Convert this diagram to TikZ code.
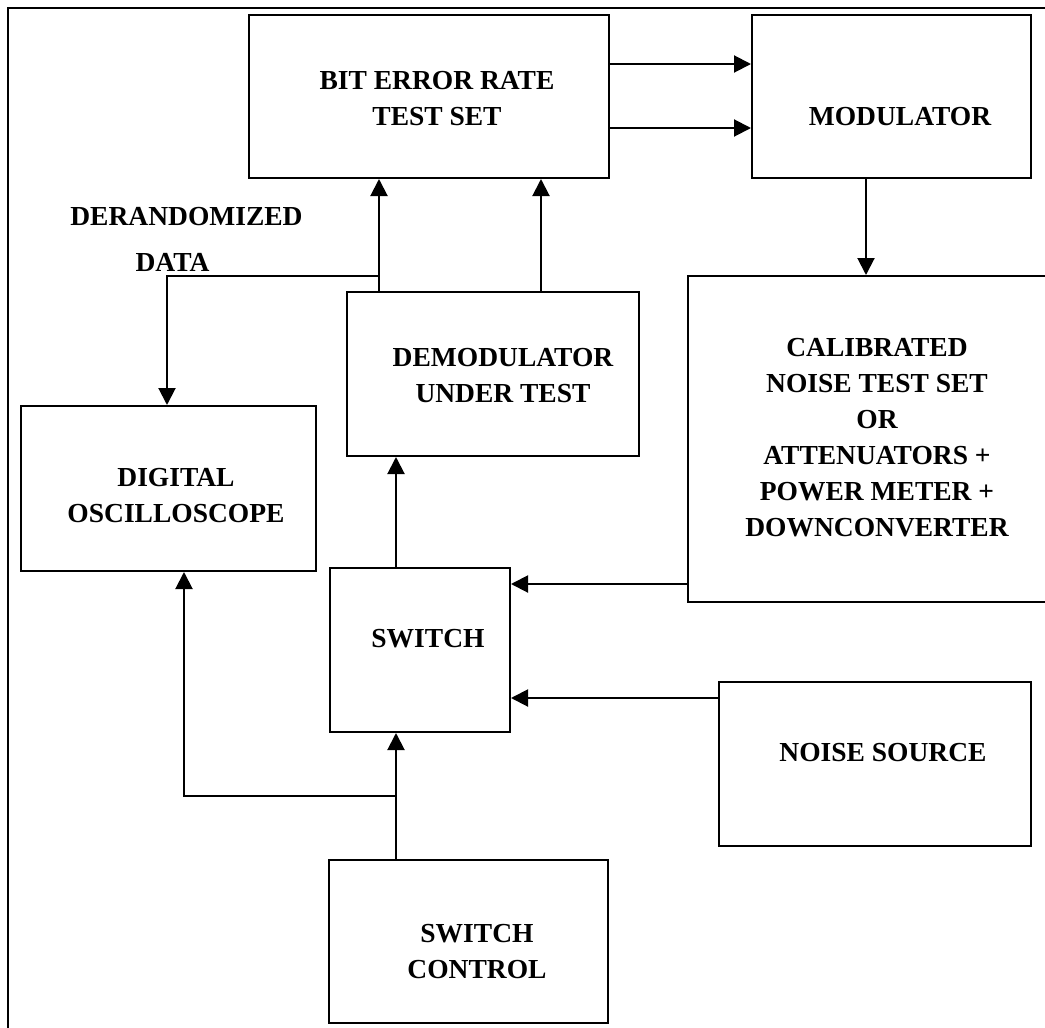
\documentclass[tikz,border=0pt]{standalone}
\usepackage{fontspec}
\setmainfont{Liberation Serif}
\usetikzlibrary{arrows.meta}
\tikzset{
  box/.style={draw, line width=2pt, inner sep=0pt, rectangle},
  lbl/.style={font=\fontsize{27.5}{36}\selectfont\bfseries, align=center, inner sep=0pt},
  arr/.style={line width=2pt, -{Triangle[length=17pt,width=17pt]}},
  ln/.style={line width=2pt},
}
\begin{document}
\begin{tikzpicture}[x=1pt,y=-1pt]
\clip (0,0) rectangle (1045,1028);
\draw[line width=1.4pt] (8,8) rectangle (1080,1080);
% boxes
\node[box, minimum width=360pt, minimum height=163pt] (bert) at (429,96.5) {};
\node[box, minimum width=279pt, minimum height=163pt] (mod) at (891.5,96.5) {};
\node[box, minimum width=372pt, minimum height=326pt] (cal) at (874,439) {};
\node[box, minimum width=292pt, minimum height=164pt] (demod) at (493,374) {};
\node[box, minimum width=295pt, minimum height=165pt] (osc) at (168.5,488.5) {};
\node[box, minimum width=180pt, minimum height=164pt] (sw) at (420,650) {};
\node[box, minimum width=312pt, minimum height=164pt] (noise) at (875,764) {};
\node[box, minimum width=279pt, minimum height=163pt] (swc) at (468.5,941.5) {};
% labels
\node[lbl] (tbert) at (437,99) {BIT ERROR RATE\\TEST SET};
\node[lbl] (tmod) at (900,117) {MODULATOR};
\node[lbl] (tcal) at (877,437.5) {CALIBRATED\\NOISE TEST SET\\OR\\ATTENUATORS +\\POWER METER +\\DOWNCONVERTER};
\node[lbl] (tdemod) at (503,375.5) {DEMODULATOR\\UNDER TEST};
\node[lbl] (tosc) at (176,495.5) {DIGITAL\\OSCILLOSCOPE};
\node[lbl] (tsw) at (428,639) {SWITCH};
\node[lbl] (tnoise) at (883,753) {NOISE SOURCE};
\node[lbl] (tswc) at (477,951.5) {SWITCH\\CONTROL};
\node[lbl] (tder) at (186.5,217) {DERANDOMIZED};
\node[lbl] (tdata) at (172.5,262) {DATA};
% helper coordinates
\coordinate (r1) at (0,64);
\coordinate (r2) at (0,128);
\coordinate (cmod) at (866,0);
\coordinate (cda) at (379,0);
\coordinate (cdb) at (541,0);
\coordinate (j1) at (379,276);
\coordinate (k1) at (167,276);
\coordinate (r3) at (0,584);
\coordinate (r4) at (0,698);
\coordinate (cs) at (396,0);
\coordinate (j2) at (396,796);
\coordinate (k2) at (184,796);
% connectors
\draw[arr] (bert.east |- r1) -- (mod.west |- r1);
\draw[arr] (bert.east |- r2) -- (mod.west |- r2);
\draw[arr] (mod.south -| cmod) -- (cal.north -| cmod);
\draw[arr] (demod.north -| cda) -- (bert.south -| cda);
\draw[arr] (demod.north -| cdb) -- (bert.south -| cdb);
\draw[arr] (j1) -- (k1) -- (osc.north -| k1);
\draw[arr] (cal.west |- r3) -- (sw.east |- r3);
\draw[arr] (noise.west |- r4) -- (sw.east |- r4);
\draw[arr] (sw.north -| cs) -- (demod.south -| cs);
\draw[arr] (swc.north -| cs) -- (sw.south -| cs);
\draw[arr] (j2) -- (k2) -- (osc.south -| k2);
\end{tikzpicture}
\end{document}
